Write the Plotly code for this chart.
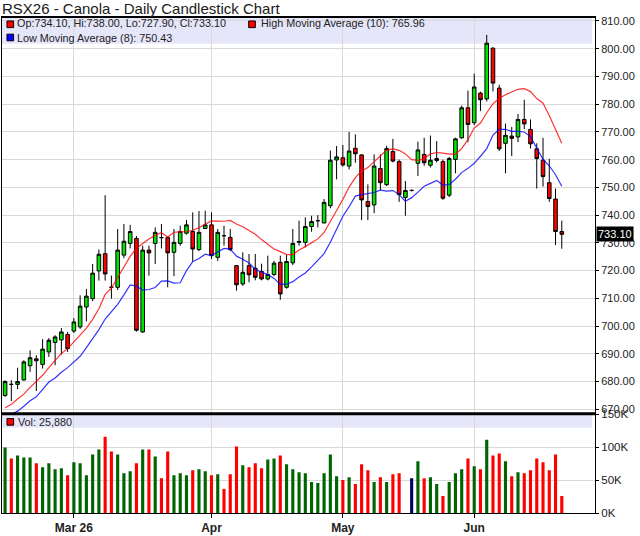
import pandas as pd
import plotly.graph_objects as go

# trading days Feb 12 - Jun 19 2026 (Family Day, Good Friday closed)
dates = pd.bdate_range("2026-02-12", "2026-06-19", freq="C",
                       holidays=["2026-02-16", "2026-04-03"]).strftime("%Y-%m-%d").tolist()

opens = [675.0, 679.0, 679.0, 680.6, 685.7, 688.2, 686.2, 690.7, 694.1, 695.0,
         697.0, 698.2, 699.7, 706.9, 709.9, 719.9, 726.1, 714.0, 714.0, 725.6,
         729.8, 731.6, 697.9, 727.4, 729.8, 731.9, 731.9, 726.6, 729.8, 733.5,
         734.1, 727.6, 735.2, 736.5, 724.8, 732.6, 732.0, 721.8, 715.2, 721.8,
         720.9, 719.7, 717.0, 718.6, 723.0, 714.0, 722.8, 730.2, 730.2, 735.9,
         738.0, 737.2, 743.4, 759.9, 760.7, 757.7, 764.1, 761.7, 744.9, 743.7,
         756.8, 751.0, 762.9, 759.3, 746.4, 748.9, 758.7, 761.9, 758.0, 759.7,
         759.3, 747.2, 760.1, 767.9, 778.7, 773.3, 784.0, 781.9, 800.2, 785.8,
         765.9, 768.5, 768.2, 774.5, 770.9, 763.9, 759.8, 751.7, 745.8, 734.1]
highs = [680.5, 680.5, 685.0, 687.7, 691.3, 689.5, 695.3, 695.7, 696.7, 699.3,
         697.9, 702.9, 711.1, 713.4, 722.4, 727.6, 747.2, 718.2, 735.0, 736.8,
         736.5, 732.5, 729.0, 729.0, 735.6, 736.8, 732.2, 735.0, 736.2, 738.3,
         741.0, 741.5, 741.6, 741.0, 735.0, 736.2, 735.0, 722.0, 726.6, 726.0,
         726.0, 722.5, 725.4, 723.5, 725.4, 725.6, 735.0, 738.0, 739.2, 739.8,
         740.0, 745.8, 763.3, 764.9, 765.3, 770.0, 769.1, 762.0, 751.1, 761.9,
         761.9, 765.0, 767.5, 760.0, 752.3, 749.3, 766.5, 767.9, 768.7, 766.7,
         760.0, 761.0, 767.9, 779.5, 784.9, 791.0, 784.5, 805.0, 800.5, 787.0,
         773.0, 771.8, 776.5, 781.6, 774.5, 765.9, 767.9, 760.3, 749.6, 738.0]
lows = [674.5, 673.0, 677.3, 680.3, 683.5, 676.6, 684.7, 688.9, 685.9, 689.7,
        690.7, 697.5, 699.0, 701.7, 709.0, 716.4, 716.4, 709.9, 713.0, 724.5,
        728.0, 698.0, 697.5, 718.2, 722.4, 728.0, 714.0, 718.0, 729.0, 733.0,
        723.3, 727.0, 735.0, 724.2, 723.5, 729.0, 727.0, 712.8, 714.5, 715.8,
        716.5, 716.5, 716.5, 718.0, 709.5, 713.5, 722.0, 729.0, 728.4, 734.0,
        735.6, 737.0, 742.5, 752.9, 757.5, 756.5, 758.9, 738.2, 738.2, 740.7,
        749.0, 750.5, 759.0, 744.8, 739.8, 748.5, 754.1, 757.8, 757.2, 759.0,
        745.5, 746.5, 755.1, 767.5, 766.3, 772.5, 777.5, 781.0, 784.6, 763.1,
        755.1, 761.3, 766.3, 771.0, 764.0, 749.6, 750.3, 744.8, 729.2, 727.9]
closes = [680.0, 679.0, 680.0, 687.1, 688.6, 687.5, 691.7, 694.9, 696.1, 697.9,
          691.9, 701.5, 707.2, 710.8, 719.1, 725.9, 718.8, 714.0, 727.4, 730.6,
          734.1, 698.5, 727.4, 726.4, 733.8, 731.9, 726.4, 730.2, 734.1, 736.5,
          727.8, 733.8, 736.5, 725.4, 733.8, 732.6, 727.6, 714.9, 719.4, 718.5,
          717.6, 717.0, 718.6, 722.7, 711.6, 723.3, 729.8, 730.5, 735.9, 737.7,
          738.0, 744.6, 759.8, 761.0, 758.1, 763.1, 762.1, 745.5, 743.1, 757.7,
          751.7, 764.0, 759.5, 747.4, 748.9, 748.9, 763.5, 758.9, 759.8, 760.4,
          746.1, 760.4, 767.5, 778.7, 772.7, 786.2, 781.6, 802.0, 787.6, 763.9,
          768.8, 767.7, 774.5, 772.9, 765.7, 760.4, 753.9, 746.0, 734.1, 733.1]
volumes = [99500, 83000, 87500, 84500, 84500, 75500, 69500, 75500, 66500, 68000,
           57500, 77000, 75500, 57500, 89000, 96500, 116000, 93500, 89000, 60500,
           63500, 75500, 96500, 96500, 86000, 53000, 93500, 57500, 60500, 57500,
           65000, 66500, 63500, 57500, 59000, 36500, 59000, 101000, 72500, 69500,
           75500, 68000, 81500, 83000, 87500, 74000, 66500, 62000, 60500, 47000,
           45500, 60500, 89000, 56000, 50000, 54500, 44000, 74000, 65000, 47000,
           54500, 47000, 59000, 60500, 0, 53000, 78500, 53000, 54500, 44000,
           26000, 47000, 60500, 66500, 83000, 71000, 66500, 111500, 87500, 90500,
           78500, 56000, 62000, 60500, 65000, 83000, 77000, 65000, 89000, 25880]

# sessions before the visible window, only used to seed the averages
prior_highs = [668.0, 666.0, 670.0, 667.0, 669.0, 672.0, 668.0, 671.0, 674.0]
prior_lows = [664.0, 667.0, 666.0, 668.0, 665.0, 664.0, 667.0]

month_ticks = ["2026-03-02", "2026-04-01", "2026-05-01", "2026-06-01"]
month_labels = ["Mar 26", "Apr", "May", "Jun"]

high_ma = pd.Series(prior_highs + highs).rolling(10).mean().iloc[len(prior_highs):].tolist()
low_ma = pd.Series(prior_lows + lows).rolling(8).mean().iloc[len(prior_lows):].tolist()

vol_colors = []
for i in range(len(closes)):
    if i == 0 or closes[i] > closes[i - 1]:
        vol_colors.append("#006400")
    elif closes[i] < closes[i - 1]:
        vol_colors.append("#ff0000")
    else:
        vol_colors.append("#000066")

fig = go.Figure()
fig.add_trace(go.Candlestick(
    x=dates, open=opens, high=highs, low=lows, close=closes,
    increasing=dict(fillcolor="#00e600", line=dict(color="#000000", width=1)),
    decreasing=dict(fillcolor="#ff0000", line=dict(color="#000000", width=1)),
    whiskerwidth=0, hoverinfo="skip", xaxis="x", yaxis="y"))
fig.add_trace(go.Scatter(x=dates, y=high_ma, mode="lines",
                         line=dict(color="rgba(255,0,0,0.8)", width=1.2),
                         hoverinfo="skip", xaxis="x", yaxis="y"))
fig.add_trace(go.Scatter(x=dates, y=low_ma, mode="lines",
                         line=dict(color="rgba(0,0,255,0.8)", width=1.2),
                         hoverinfo="skip", xaxis="x", yaxis="y"))
fig.add_trace(go.Bar(x=dates, y=volumes, marker=dict(color=vol_colors, line=dict(width=0)),
                     hoverinfo="skip", xaxis="x2", yaxis="y2"))

grid = "#d9d9d9"
font = "Liberation Sans, Arial, sans-serif"
xr = [-0.49, 94.31]

fig.update_layout(
    width=640, height=536,
    margin=dict(l=1, r=45, t=17, b=19),
    paper_bgcolor="white", plot_bgcolor="white",
    showlegend=False, boxgap=0.18, bargap=0.5,
    font=dict(family=font, size=11, color="#222222"),
    xaxis=dict(type="category", range=xr, domain=[0, 1], anchor="y",
               tickvals=month_ticks, showticklabels=False, ticks="",
               showgrid=True, gridcolor=grid, gridwidth=1,
               showline=True, linecolor="black", linewidth=1, mirror=True,
               rangeslider=dict(visible=False)),
    yaxis=dict(domain=[0.2, 1], side="right", range=[668.39, 811.43],
               tick0=670, dtick=10, tickformat=".2f", ticks="outside", ticklen=3,
               tickcolor="black", showgrid=True, gridcolor=grid, zeroline=False,
               showline=True, linecolor="black", linewidth=1, mirror=True,
               tickfont=dict(size=11, color="#222222")),
    xaxis2=dict(type="category", range=xr, domain=[0, 1], anchor="y2", matches="x",
                tickvals=month_ticks, ticktext=month_labels, ticks="outside", ticklen=4,
                tickcolor="black", showgrid=True, gridcolor=grid,
                showline=True, linecolor="black", linewidth=1, mirror=True,
                tickfont=dict(size=12, color="#222222", weight="bold")),
    yaxis2=dict(domain=[0, 0.2], side="right", range=[0, 150800],
                tickvals=[0, 50000, 100000, 150000], ticktext=["0K", "50K", "100K", "150K"],
                ticks="outside", ticklen=3, tickcolor="black",
                showgrid=True, gridcolor=grid, zeroline=False,
                showline=True, linecolor="black", linewidth=1, mirror=True,
                tickfont=dict(size=11.5, color="#222222")),
)

# lavender legend bands
fig.add_shape(type="rect", xref="paper", yref="paper", x0=0, x1=0.995, y0=0.946, y1=1,
              fillcolor="#e6e6fa", line=dict(width=0), layer="below")
fig.add_shape(type="rect", xref="paper", yref="paper", x0=0, x1=0.995, y0=0.172, y1=0.2,
              fillcolor="#e6e6fa", line=dict(width=0), layer="below")
# heavier frame lines
fig.add_shape(type="line", xref="paper", yref="paper", x0=0, x1=1, y0=1, y1=1,
              line=dict(color="black", width=2))
fig.add_shape(type="line", xref="paper", yref="paper", x0=0, x1=1, y0=0.2, y1=0.2,
              line=dict(color="black", width=3))

# legend squares
for x0, y0, col in [(0.0084, 0.9786, "#ff0000"), (0.416, 0.9786, "#ff0000"),
                    (0.0084, 0.952, "#0000ff"), (0.0084, 0.177, "#ff0000")]:
    fig.add_shape(type="rect", xref="paper", yref="paper", x0=x0, x1=x0 + 0.0112,
                  y0=y0, y1=y0 + 0.0134, fillcolor=col, line=dict(color="black", width=1))

legend_items = [
    (0.022, 0.9874, "Op:734.10, Hi:738.00, Lo:727.90, Cl:733.10"),
    (0.4335, 0.9874, "High Moving Average (10): 765.96"),
    (0.022, 0.9586, "Low Moving Average (8): 750.43"),
    (0.023, 0.184, "Vol: 25,880"),
]
for x, y, txt in legend_items:
    fig.add_annotation(xref="paper", yref="paper", x=x, y=y, text=txt, showarrow=False,
                       xanchor="left", yanchor="middle", font=dict(size=10.8, color="#222222"))

fig.add_annotation(xref="paper", yref="paper", x=-0.003, y=1.0174,
                   text="RSX26 - Canola - Daily Candlestick Chart", showarrow=False,
                   xanchor="left", yanchor="middle", font=dict(size=15, color="#1a1a1a"))

# last price tag on the price axis
fig.add_annotation(xref="paper", yref="y", x=1, y=closes[-1], text=f"{closes[-1]:.2f}",
                   showarrow=False, xanchor="left", yanchor="middle", xshift=1,
                   bgcolor="black", borderpad=1, font=dict(size=11, color="white"))

fig.write_html("out.html", config={"displayModeBar": False})

# drop the browser's default page margin so the chart sits at the window corner
with open("out.html", encoding="utf-8") as f:
    page = f.read()
page = page.replace("<body>", '<body style="margin:0">', 1)
with open("out.html", "w", encoding="utf-8") as f:
    f.write(page)
